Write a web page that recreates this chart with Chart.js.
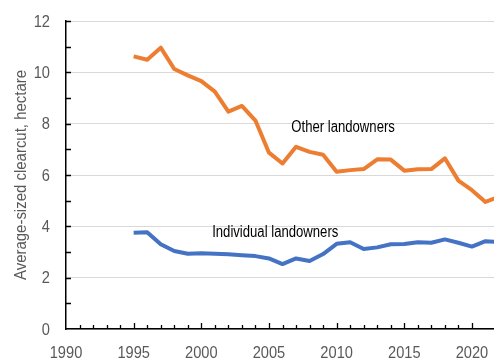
<!DOCTYPE html>
<html>
<head>
<meta charset="utf-8">
<script src="https://cdn.jsdelivr.net/npm/chart.js@4/dist/chart.umd.min.js"></script>
<style>
  html, body { margin: 0; padding: 0; background: #fff; }
  #wrap { width: 494px; height: 359px; }
</style>
</head>
<body>
<div id="wrap"><canvas id="clearcut-chart" width="494" height="359"></canvas></div>
<script>
// Average clearcut size per year, hectares
const years = [1995, 1996, 1997, 1998, 1999, 2000, 2001, 2002, 2003, 2004, 2005, 2006, 2007, 2008,
  2009, 2010, 2011, 2012, 2013, 2014, 2015, 2016, 2017, 2018, 2019, 2020, 2021, 2022];
const otherLandowners = [10.62, 10.49, 10.96, 10.13, 9.88, 9.66, 9.25, 8.47, 8.69, 8.12, 6.87, 6.45, 7.10, 6.90,
  6.79, 6.13, 6.19, 6.23, 6.61, 6.60, 6.17, 6.22, 6.23, 6.65, 5.78, 5.41, 4.95, 5.15];
const individualLandowners = [3.75, 3.77, 3.30, 3.04, 2.93, 2.95, 2.93, 2.91, 2.87, 2.84, 2.75, 2.53, 2.75, 2.65,
  2.92, 3.32, 3.38, 3.12, 3.18, 3.30, 3.31, 3.38, 3.36, 3.49, 3.36, 3.21, 3.42, 3.38];

const seriesNames = ['Other landowners', 'Individual landowners'];
// where each series name starts, in data units (year, hectare)
const nameAnchors = [[2006.65, 7.85], [2000.8, 3.76]];
const yTitle = 'Average-sized clearcut, hectare';

const FONT = "'Liberation Sans', Arial, sans-serif";
const GREY = '#595959';

// text squeezed sideways, the axis font is a narrow one
function narrowText(ctx, text, x, y, sx, align, baseline) {
  ctx.save();
  ctx.translate(x, y);
  ctx.scale(sx, 1);
  ctx.textAlign = align;
  ctx.textBaseline = baseline;
  ctx.fillText(text, 0, 0);
  ctx.restore();
}

// short tick marks pointing into the plot area
const innerTicks = {
  id: 'innerTicks',
  afterDraw(chart) {
    const {ctx, scales: {x, y}, chartArea} = chart;
    ctx.save();
    ctx.strokeStyle = '#000';
    ctx.lineWidth = 1.3;
    ctx.beginPath();
    y.ticks.forEach(t => {
      if (t.value === 0) return;
      const py = Math.round(y.getPixelForValue(t.value)) + 0.5;
      ctx.moveTo(chartArea.left, py);
      ctx.lineTo(chartArea.left + 5, py);
    });
    x.ticks.forEach(t => {
      if (!Number.isInteger(t.value) || t.value === x.min) return;
      const px = Math.round(x.getPixelForValue(t.value)) + 0.5;
      const len = t.value % 5 === 0 ? 6 : 4;
      ctx.moveTo(px, chartArea.bottom);
      ctx.lineTo(px, chartArea.bottom - len);
    });
    ctx.stroke();
    ctx.restore();
  }
};

// axis numbers and the y title
const axisText = {
  id: 'axisText',
  afterDraw(chart) {
    const {ctx, scales: {x, y}, chartArea} = chart;
    ctx.save();
    ctx.fillStyle = GREY;
    ctx.font = '17px ' + FONT;
    y.ticks.forEach(t => {
      if (t.value % 2 !== 0) return;
      narrowText(ctx, String(t.value), chartArea.left - 16, y.getPixelForValue(t.value) + 1, 0.86, 'right', 'middle');
    });
    x.ticks.forEach(t => {
      if (!Number.isInteger(t.value) || t.value % 5 !== 0) return;
      narrowText(ctx, String(t.value), x.getPixelForValue(t.value), 358, 0.86, 'center', 'alphabetic');
    });
    ctx.save();
    ctx.translate(21, (chartArea.top + chartArea.bottom) / 2);
    ctx.rotate(-Math.PI / 2);
    narrowText(ctx, yTitle, 0, 0, 0.88, 'center', 'middle');
    ctx.restore();
    ctx.restore();
  }
};

// series names written next to the lines
const seriesLabels = {
  id: 'seriesLabels',
  afterDatasetsDraw(chart) {
    const {ctx, scales: {x, y}} = chart;
    ctx.save();
    ctx.fillStyle = '#000';
    ctx.font = '16px ' + FONT;
    seriesNames.forEach((name, i) => {
      const [yr, val] = nameAnchors[i];
      narrowText(ctx, name, x.getPixelForValue(yr), y.getPixelForValue(val), 0.82, 'left', 'middle');
    });
    ctx.restore();
  }
};

const ctx = document.getElementById('clearcut-chart').getContext('2d');
const chart = new Chart(ctx, {
  type: 'line',
  data: {
    labels: years,
    datasets: [{
      label: seriesNames[0],
      data: years.map((yr, i) => ({x: yr, y: otherLandowners[i]})),
      borderColor: '#ED7D31',
      borderWidth: 4,
      borderJoinStyle: 'round',
      pointRadius: 0,
      tension: 0
    }, {
      label: seriesNames[1],
      data: years.map((yr, i) => ({x: yr, y: individualLandowners[i]})),
      borderColor: '#4472C4',
      borderWidth: 4,
      borderJoinStyle: 'round',
      pointRadius: 0,
      tension: 0
    }]
  },
  options: {
    responsive: false,
    animation: false,
    events: [],
    layout: { padding: { top: 21, right: 0, left: 0, bottom: 0 } },
    plugins: { legend: { display: false }, tooltip: { enabled: false } },
    scales: {
      x: {
        type: 'linear',
        min: 1990,
        max: 2021.63,
        afterFit(scale) { scale.height = 30; },
        grid: { display: false, drawTicks: false },
        border: { display: true, color: '#000', width: 1.5 },
        ticks: { stepSize: 1, autoSkip: false, display: false }
      },
      y: {
        min: 0,
        max: 12,
        afterFit(scale) { scale.width = 66; },
        grid: {
          drawTicks: false,
          lineWidth: 1,
          color: c => (c.tick && c.tick.value % 2 === 0) ? '#d9d9d9' : 'rgba(0,0,0,0)'
        },
        border: { display: true, color: '#000', width: 1.5 },
        ticks: { stepSize: 1, autoSkip: false, display: false }
      }
    }
  },
  plugins: [innerTicks, axisText, seriesLabels]
});
</script>
</body>
</html>
